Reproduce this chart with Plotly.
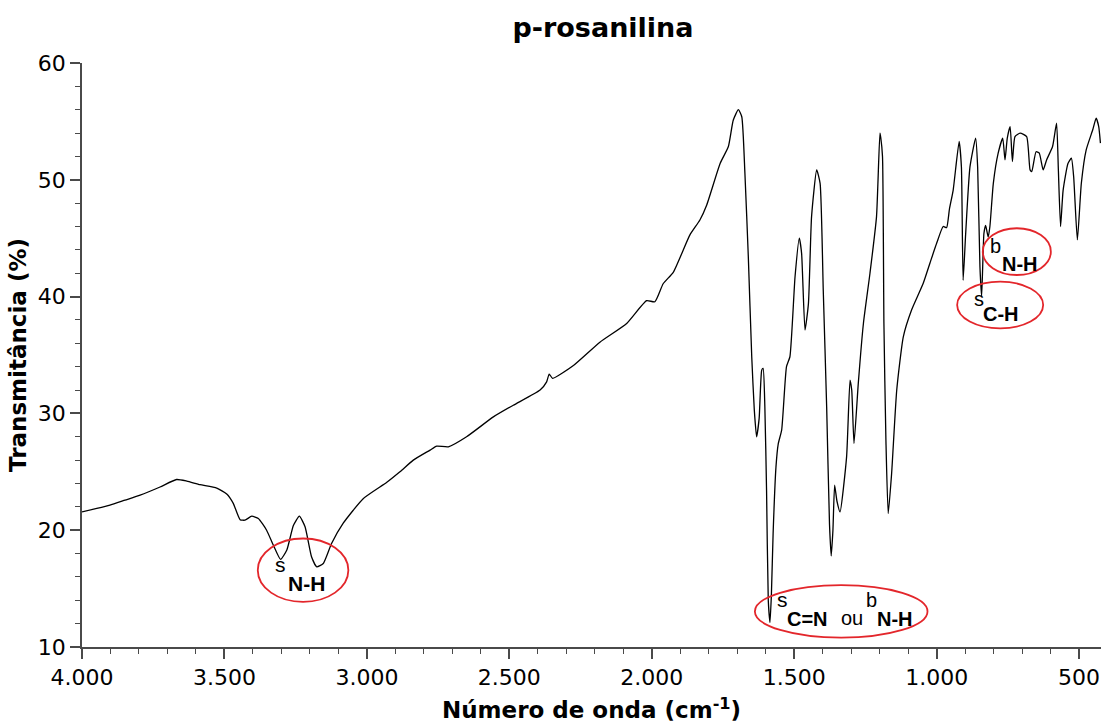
import plotly.graph_objects as go

# ---- data ----
wavenumber = [4000, 3948, 3902, 3849, 3796, 3726, 3668, 3632, 3586, 3527, 3492, 3469, 3445, 3428,
              3404, 3381, 3352, 3328, 3303, 3281, 3258, 3237, 3217, 3194, 3176, 3153, 3124, 3083,
              3013, 2930, 2884, 2837, 2778, 2755, 2714, 2650, 2556, 2486, 2392, 2369, 2360, 2348,
              2275, 2182, 2088, 2018, 1989, 1960, 1924, 1866, 1831, 1807, 1760, 1731, 1714, 1696,
              1684, 1673, 1661, 1649, 1640, 1632, 1623, 1614, 1609, 1603, 1597, 1591, 1585, 1580,
              1574, 1564, 1556, 1544, 1527, 1515, 1497, 1482, 1474, 1462, 1450, 1439, 1421, 1409,
              1398, 1386, 1376, 1370, 1364, 1358, 1350, 1339, 1316, 1304, 1298, 1290, 1275, 1257,
              1234, 1211, 1199, 1196, 1190, 1185, 1178, 1170, 1158, 1140, 1117, 1088, 1047, 1023,
              1000, 977, 965, 955, 942, 921, 913, 907, 898, 883, 863, 856, 848, 842, 834, 828, 819,
              813, 801, 784, 768, 760, 752, 742, 734, 725, 707, 684, 672, 666, 651, 640, 626, 614,
              593, 579, 573, 565, 556, 539, 527, 519, 506, 492, 475, 452, 440, 431, 425]
transmittance = [21.57, 21.86, 22.14, 22.57, 23.0, 23.7, 24.34, 24.2, 23.9, 23.6, 23.1, 22.3, 20.9, 20.86,
                 21.2, 21.0, 20.0, 18.7, 17.5, 18.3, 20.4, 21.2, 20.3, 17.7, 16.86, 17.15, 18.86, 20.6,
                 22.7, 24.1, 25.0, 26.0, 26.86, 27.2, 27.14, 28.0, 29.7, 30.7, 32.0, 32.7, 33.37, 33.0,
                 34.1, 36.1, 37.7, 39.65, 39.56, 41.1, 42.1, 45.28, 46.56, 47.85, 51.4, 52.85, 55.1, 56.0,
                 55.4, 50.56, 43.4, 34.85, 30.28, 28.0, 29.57, 33.7, 33.85, 30.57, 23.4, 14.0, 12.1, 14.5,
                 19.7, 25.4, 27.4, 28.57, 34.0, 34.85, 41.7, 45.0, 43.7, 37.14, 39.4, 46.85, 50.85, 49.7,
                 40.56, 30.57, 20.5, 17.8, 20.0, 23.86, 22.5, 21.57, 26.3, 32.85, 32.0, 27.43, 32.57, 37.7,
                 42.0, 46.85, 54.0, 53.6, 52.0, 37.7, 27.7, 21.43, 24.86, 32.0, 36.56, 38.85, 41.14, 42.9,
                 44.56, 46.0, 45.9, 47.5, 49.1, 53.28, 51.1, 41.4, 45.4, 51.1, 53.57, 51.1, 42.57, 40.0, 45.4, 46.1, 45.1,
                 46.0, 49.7, 52.28, 53.57, 51.7, 53.57, 54.56, 51.56, 53.7, 54.0, 53.7, 50.85, 50.7, 52.4, 52.3, 50.85, 51.7,
                 52.85, 54.85, 51.1, 46.0, 49.1, 51.4, 51.85, 50.28, 44.85, 49.7, 52.56, 54.28, 55.28, 54.56, 53.14]

x_tick_values = [4000, 3500, 3000, 2500, 2000, 1500, 1000, 500]
x_tick_labels = ["4.000", "3.500", "3.000", "2.500", "2.000", "1.500", "1.000", "500"]
y_tick_values = [10, 20, 30, 40, 50, 60]
y_tick_labels = ["10", "20", "30", "40", "50", "60"]

TICK_FONT = "DejaVu Sans, sans-serif"
LABEL_FONT = "Liberation Sans, Arial, sans-serif"
RED = "#e3262b"
AXIS = "#4a4a4a"

fig = go.Figure()
fig.add_trace(go.Scatter(x=wavenumber, y=transmittance, mode="lines",
                         line=dict(color="black", width=1.3, shape="spline", smoothing=0.5),
                         showlegend=False))

# red ellipses (data coordinates)
ellipses = [(3383, 3065, 19.29, 13.86), (1638, 1032, 15.29, 10.8),
            (838, 599, 45.85, 41.85), (928, 626, 41.28, 37.28)]
for x0, x1, y0, y1 in ellipses:
    fig.add_shape(type="circle", xref="x", yref="y", x0=x0, x1=x1, y0=y1, y1=y0,
                  line=dict(color=RED, width=1.8))

def label(text, x, y, size, bold=False):
    fig.add_annotation(x=x, y=y, xref="x", yref="y", text=("<b>%s</b>" % text) if bold else text,
                       showarrow=False, xanchor="left", yanchor="middle",
                       font=dict(family=LABEL_FONT, size=size, color="black"))

# sN-H
label("s", 3330, 17.1, 21)
label("N-H", 3284, 15.4, 21, True)
# sC=N ou bN-H
label("s", 1568, 14.1, 21)
label("C=N", 1533, 12.4, 20, True)
label("ou", 1343, 12.45, 20)
label("b", 1255, 14.0, 20)
label("N-H", 1217, 12.4, 20, True)
# bN-H
label("b", 820, 44.3, 20)
label("N-H", 779, 42.75, 20, True)
# sC-H
label("s", 876, 39.8, 20)
label("C-H", 845, 38.55, 20, True)

fig.update_layout(
    width=1101, height=724,
    margin=dict(l=82, r=0, t=63, b=77),
    paper_bgcolor="white", plot_bgcolor="white",
    title=dict(text="<b>p-rosanilina</b>", x=603 / 1101, xanchor="center", xref="container",
               y=1 - 28 / 724, yanchor="middle", yref="container",
               font=dict(family=TICK_FONT, size=27, color="black")),
    xaxis=dict(range=[4000, 423], showline=True, linecolor=AXIS, linewidth=1.5,
               showgrid=False, zeroline=False, ticks="outside", ticklen=10, tickwidth=1.5,
               tickcolor=AXIS, tickvals=x_tick_values, ticktext=x_tick_labels,
               tickfont=dict(family=TICK_FONT, size=22, color="black"),
               minor=dict(dtick=100, tick0=0, ticks="outside", ticklen=5, tickwidth=1.2,
                          tickcolor=AXIS, showgrid=False),
               title=dict(text="<b>Número de onda (cm<sup>-1</sup>)</b>", standoff=13,
                          font=dict(family=TICK_FONT, size=23, color="black"))),
    yaxis=dict(range=[10, 60], showline=True, linecolor=AXIS, linewidth=1.5,
               showgrid=False, zeroline=False, ticks="outside", ticklen=10, tickwidth=1.5,
               tickcolor=AXIS, tickvals=y_tick_values, ticktext=y_tick_labels,
               tickfont=dict(family=TICK_FONT, size=22, color="black"),
               minor=dict(dtick=2, tick0=0, ticks="outside", ticklen=5, tickwidth=1.2,
                          tickcolor=AXIS, showgrid=False),
               title=dict(text="<b>Transmitância (%)</b>", standoff=5,
                          font=dict(family=TICK_FONT, size=23, color="black"))),
)

fig.write_html("out.html")
